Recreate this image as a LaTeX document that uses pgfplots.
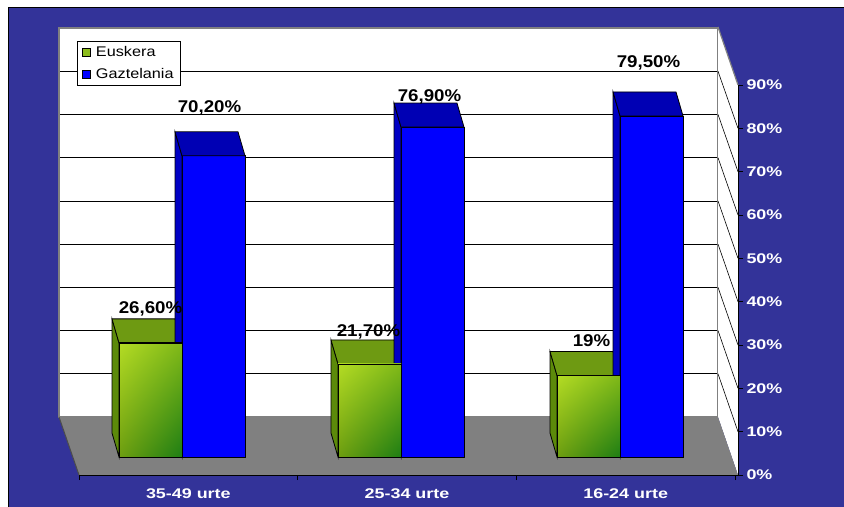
\documentclass[border=0pt]{standalone}
\usepackage{fontspec}
\setmainfont{Liberation Sans}
\newfontfamily\tickf{Liberation Sans}[FakeStretch=1.28]
\newfontfamily\labf{Liberation Sans}[FakeStretch=1.1]
\newfontfamily\legf{Liberation Sans}[FakeStretch=1.16]
\usepackage{pgfplots}
\usepackage{pgfplotstable}
\usetikzlibrary{shadings}
\pgfplotsset{compat=1.18}
\definecolor{navy}{HTML}{333399}
\definecolor{floorgray}{HTML}{808080}
\definecolor{gUL}{HTML}{B4DC24}
\definecolor{gUR}{HTML}{80B818}
\definecolor{gLL}{HTML}{6E9E10}
\definecolor{gLR}{HTML}{1E7E14}
\definecolor{gtop}{HTML}{6E9A12}
\definecolor{gside}{HTML}{5C8A0A}
\definecolor{gleg}{HTML}{8CBC1C}
\definecolor{bfront}{HTML}{0000FF}
\definecolor{btop}{HTML}{0000B4}
\definecolor{bside}{HTML}{0000C4}
\pgfdeclareplotmark{nothing}{}

\pgfplotstableread{
x v lab dx dy
0 26.6 26,60 0 29
1 21.7 21,70 -1 27
2 19.0 19 3 29
}\euskera
\pgfplotstableread{
x v lab dx dy
0 70.2 70,20 -4 43
1 76.9 76,90 -3 26
2 79.5 79,50 -3 48
}\gaztelania

\begin{document}
\begin{tikzpicture}
\useasboundingbox (0,0) rectangle (844bp,507bp);
\fill[white] (0,0) rectangle (844bp,507bp);
\fill[navy] (8bp,0) rectangle (844bp,499bp);
\draw[black, line width=1bp] (8bp,0) -- (8bp,499bp) -- (844bp,499bp);

% back wall
\begin{axis}[at={(59bp,90bp)}, anchor=south west, scale only axis,
  width=659bp, height=389bp, xmin=0, xmax=1, ymin=0, ymax=90,
  xtick=\empty, ytick={10,20,...,80}, yticklabels={}, major tick length=0pt,
  ymajorgrids, grid style={black, line width=0.6bp},
  axis line style={draw=gray, line width=1.5bp},
  axis background/.style={fill=white}]
\addplot[draw=none, forget plot] coordinates {(0,0)};
\end{axis}

% right side wall
\fill[white] (718bp,480bp) -- (738bp,422bp) -- (738bp,32bp) -- (718bp,90bp) -- cycle;
\draw[gray, line width=1.2bp] (718bp,480bp) -- (738bp,422bp);
\foreach \k in {1,...,8}{%
  \pgfmathsetmacro\ya{90+\k*43.22}\pgfmathsetmacro\yb{32+\k*43.33}%
  \draw[black, line width=0.6bp] (718bp,\ya bp) -- (738bp,\yb bp);}

% floor
\fill[floorgray] (59bp,90bp) -- (718bp,90bp) -- (738bp,32bp) -- (79bp,32bp) -- cycle;
\draw[gray!60!black, line width=1bp] (59bp,90bp) -- (79bp,32bp);

% bars
\begin{axis}[at={(72.5bp,50bp)}, anchor=south west, scale only axis,
  width=657bp, height=386.1bp, xmin=-0.5, xmax=2.5, ymin=0, ymax=90,
  hide axis, clip=false,
  legend style={at={(0.00685,1.0774)}, anchor=north west, draw=black,
    fill=white, font=\legf\fontsize{14bp}{16bp}\selectfont,
    inner xsep=5bp, inner ysep=3bp, row sep=7bp,
    /tikz/every odd column/.append style={column sep=3bp}},
  legend cell align=left]
% green depth faces
\addplot[forget plot, scatter, only marks, mark=nothing,
  visualization depends on={\thisrow{v} \as \rawv},
  scatter/@pre marker code/.code={%
    \begin{scope}\pgfkeys{/pgf/fpu=false}%
    \pgfmathsetmacro\h{\rawv*4.29}%
    \filldraw[fill=gside, draw=black, line width=0.8bp] (-63bp,0bp) -- (-70bp,24bp) -- (-70bp,24bp-\h bp) -- (-63bp,-\h bp) -- cycle;
    \filldraw[fill=gtop, draw=black, line width=0.8bp] (-63bp,0bp) -- (0bp,0bp) -- (-7bp,24bp) -- (-70bp,24bp) -- cycle;
    \end{scope}},
  scatter/@post marker code/.code={}] table[x=x,y=v]{\euskera};
% blue depth faces
\addplot[forget plot, scatter, only marks, mark=nothing,
  visualization depends on={\thisrow{v} \as \rawv},
  scatter/@pre marker code/.code={%
    \begin{scope}\pgfkeys{/pgf/fpu=false}%
    \pgfmathsetmacro\h{\rawv*4.29}%
    \filldraw[fill=bside, draw=black, line width=0.8bp] (0bp,0bp) -- (-7bp,24bp) -- (-7bp,24bp-\h bp) -- (0bp,-\h bp) -- cycle;
    \filldraw[fill=btop, draw=black, line width=0.8bp] (0bp,0bp) -- (63bp,0bp) -- (56bp,24bp) -- (-7bp,24bp) -- cycle;
    \end{scope}},
  scatter/@post marker code/.code={}] table[x=x,y=v]{\gaztelania};
% green fronts
\addplot[ybar, bar width=63bp, bar shift=-31.5bp, draw=black, line width=0.8bp,
  fill=gleg,
  legend image code/.code={\draw[fill=gleg, draw=black, line width=0.8bp] (0bp,-4bp) rectangle (8bp,4bp);}
  ] table[x=x,y=v]{\euskera};
\addlegendentry{Euskera}
% green front shading, one gradient per bar
\addplot[forget plot, scatter, only marks, mark=nothing,
  visualization depends on={\thisrow{v} \as \rawv},
  scatter/@pre marker code/.code={%
    \begin{scope}\pgfkeys{/pgf/fpu=false}%
    \pgfmathsetmacro\h{\rawv*4.29}%
    \shade[upper left=gUL, upper right=gUR, lower left=gLL, lower right=gLR] (-63bp,-\h bp) rectangle (0bp,0bp);
    \draw[black, line width=0.8bp] (-63bp,-\h bp) rectangle (0bp,0bp);
    \end{scope}},
  scatter/@post marker code/.code={}] table[x=x,y=v]{\euskera};
% blue fronts
\addplot[ybar, bar width=63bp, bar shift=31.5bp, draw=black, line width=0.8bp,
  fill=bfront,
  legend image code/.code={\draw[fill=bfront, draw=black, line width=0.8bp] (0bp,-4bp) rectangle (8bp,4bp);}
  ] table[x=x,y=v]{\gaztelania};
\addlegendentry{Gaztelania}
% value labels
\addplot[forget plot, only marks, mark=nothing,
  point meta=explicit symbolic,
  visualization depends on={\thisrow{dx} \as \dx},
  visualization depends on={\thisrow{dy} \as \dy},
  nodes near coords={\labf\fontsize{17bp}{17bp}\selectfont\bfseries\pgfplotspointmeta\%},
  every node near coord/.append style={anchor=base, xshift=\dx bp-31.5bp, yshift=\dy bp, inner sep=0pt, text=black}
  ] table[x=x,y=v,meta=lab]{\euskera};
\addplot[forget plot, only marks, mark=nothing,
  point meta=explicit symbolic,
  visualization depends on={\thisrow{dx} \as \dx},
  visualization depends on={\thisrow{dy} \as \dy},
  nodes near coords={\labf\fontsize{17bp}{17bp}\selectfont\bfseries\pgfplotspointmeta\%},
  every node near coord/.append style={anchor=base, xshift=\dx bp+31.5bp, yshift=\dy bp, inner sep=0pt, text=black}
  ] table[x=x,y=v,meta=lab]{\gaztelania};
\end{axis}

% frame axis with ticks
\begin{axis}[at={(79bp,32bp)}, anchor=south west, scale only axis,
  width=659bp, height=390bp, xmin=-0.5, xmax=2.5137, ymin=0, ymax=90,
  axis x line=bottom, axis y line=right,
  axis line style={black, line width=1bp, -},
  xtick={-0.5,0.5,1.5,2.5}, x tick label as interval,
  xticklabels={35-49 urte,25-34 urte,16-24 urte},
  xticklabel style={yshift=-5bp},
  ytick={0,10,...,90},
  yticklabels={0\%,10\%,20\%,30\%,40\%,50\%,60\%,70\%,80\%,90\%},
  tick align=outside, major tick length=5bp,
  tick style={black, line width=1bp},
  ticklabel style={text=white, font=\tickf\fontsize{14bp}{14bp}\selectfont\bfseries}]
\addplot[draw=none, forget plot] coordinates {(0,0)};
\end{axis}
\end{tikzpicture}
\end{document}
